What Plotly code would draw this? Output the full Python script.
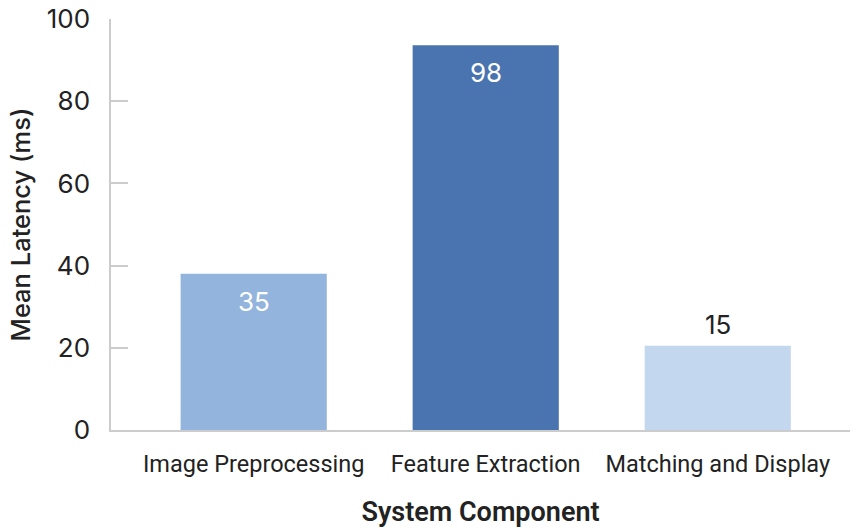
import plotly.graph_objects as go

categories = ["Image Preprocessing", "Feature Extraction", "Matching and Display"]
bar_heights = [38, 93.6, 20.5]
label_texts = ["35", "98", "15"]
colors = ["#93B4DD", "#4A74AF", "#C3D7EF"]
y_ticks = [0, 20, 40, 60, 80, 100]

fig = go.Figure()
fig.add_trace(go.Bar(
    x=categories, y=bar_heights, marker=dict(color=colors, line=dict(width=0)),
    width=0.63, hoverinfo="skip",
))

label_font_inside = dict(family="Inter, Roboto, sans-serif", size=26, color="white")
label_font_outside = dict(family="Inter, Roboto, sans-serif", size=26, color="#222222")
for i, (c, h, t) in enumerate(zip(categories, bar_heights, label_texts)):
    if i < 2:
        fig.add_annotation(x=c, y=h, text=t, showarrow=False, yanchor="top", yshift=-10,
                           font=label_font_inside)
    else:
        fig.add_annotation(x=c, y=h, text=t, showarrow=False, yanchor="bottom", yshift=4,
                           font=label_font_outside)

fig.update_layout(
    width=853, height=529,
    margin=dict(l=111, r=3, t=19, b=99),
    paper_bgcolor="white", plot_bgcolor="white",
    showlegend=False,
    font=dict(family="Inter, Roboto, sans-serif", color="#222222"),
)
fig.update_xaxes(
    range=[-0.615, 2.57],
    showline=True, linecolor="#CCCCCC", linewidth=1.5,
    ticks="", tickfont=dict(size=23.5, family="Roboto, Inter, sans-serif", color="#222222"),
    ticklabelstandoff=12,
    title=dict(text="System Component", font=dict(size=27, family="Roboto, Inter, sans-serif", color="#222222", weight=600), standoff=25),
    showgrid=False, zeroline=False,
)
fig.update_yaxes(
    range=[0, 100], tickvals=y_ticks,
    showline=True, linecolor="#CCCCCC", linewidth=1.5,
    ticks="inside", ticklen=17, tickcolor="#CCCCCC", tickwidth=1.5,
    tickfont=dict(size=26, color="#222222"),
    ticklabelstandoff=14,
    title=dict(text="Mean Latency (ms)", font=dict(size=25.5, color="#222222", weight=500), standoff=9),
    showgrid=False, zeroline=False,
)

fig.write_html("out.html")
